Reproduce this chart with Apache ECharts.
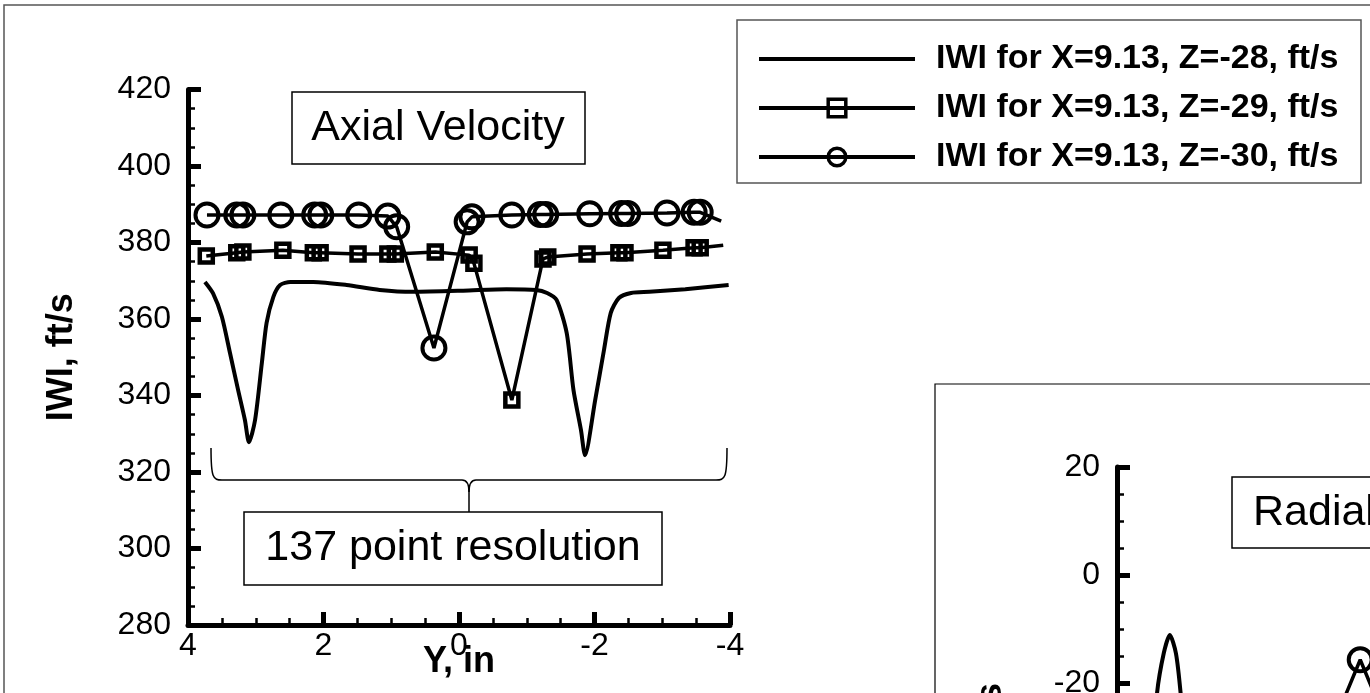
<!DOCTYPE html>
<html>
<head>
<meta charset="utf-8">
<script src="https://cdn.jsdelivr.net/npm/echarts/dist/echarts.min.js"></script>
<style>
  html, body { margin: 0; padding: 0; background: #fff; }
  #chart { width: 1370px; height: 693px; }
</style>
</head>
<body>
<div id="chart"></div>
<script>
// series names (legend)
var names = ['IWI for X=9.13, Z=-28, ft/s', 'IWI for X=9.13, Z=-29, ft/s', 'IWI for X=9.13, Z=-30, ft/s'];

// axial velocity, Y position (in) and |W| (ft/s)
var axialPos28 = [3.75, 3.63, 3.50, 3.38, 3.26, 3.16, 3.10, 3.01, 2.91, 2.84, 2.74, 2.64, 2.49, 2.15, 1.66, 1.17, 0.68, -0.06, -0.70, -1.14, -1.30, -1.44, -1.59, -1.69, -1.80, -1.86, -2.01, -2.14, -2.24, -2.36, -2.54, -2.81, -3.34, -3.98];
var axialVel28 = [369.7, 366.7, 360.6, 351.1, 341.4, 333.6, 327.8, 333.6, 348.5, 359.0, 365.8, 368.9, 369.7, 369.7, 368.9, 367.6, 367.1, 367.4, 367.8, 367.6, 366.8, 365.0, 356.3, 341.4, 331.0, 324.4, 338.8, 351.9, 361.6, 365.5, 366.8, 367.1, 367.8, 368.9];

var axialPos29 = [3.73, 3.28, 3.19, 2.60, 2.15, 2.05, 1.49, 1.05, 0.94, 0.35, -0.15, -0.22, -0.78, -1.24, -1.31, -1.89, -2.36, -2.45, -3.01, -3.47, -3.56, -3.90];
var axialVel29 = [376.5, 377.3, 377.5, 378.0, 377.3, 377.3, 377.0, 377.0, 377.0, 377.5, 376.7, 374.6, 338.8, 375.7, 376.2, 377.0, 377.3, 377.3, 378.0, 378.6, 378.6, 379.3];

var axialPos30 = [3.72, 3.28, 3.19, 2.63, 2.13, 2.04, 1.48, 1.05, 0.92, 0.37, -0.12, -0.19, -0.78, -1.20, -1.28, -1.93, -2.40, -2.49, -3.07, -3.47, -3.56, -3.87];
var axialVel30 = [387.2, 387.2, 387.2, 387.2, 387.2, 387.2, 387.2, 386.9, 384.1, 352.4, 385.4, 386.7, 387.2, 387.3, 387.3, 387.5, 387.6, 387.6, 387.7, 387.9, 387.9, 385.6];

// radial velocity (only the top of this panel is in view)
var radialPos28 = [3.52, 3.41, 3.31, 3.22, 3.13, 3.06, 2.94];
var radialVel28 = [-40, -22, -14.5, -11.1, -14.5, -22, -40];
var radialPos30 = [0.80, 0.41, 0.02];
var radialVel30 = [-27.5, -15.7, -27.5];

var axialRange = [280, 420];
var radialRange = [-80, 20];

var font = "'Liberation Sans', Arial, Helvetica, sans-serif";

// pairs [pos, vel]; the last point of a marked series carries no symbol
function pairs(pos, vel, bareLast) {
  return pos.map(function (p, i) {
    if (bareLast && i === pos.length - 1) return { value: [p, vel[i]], symbol: 'none' };
    return [p, vel[i]];
  });
}

function xAx(grid, name) {
  return {
    gridIndex: grid, type: 'value', min: -4, max: 4, interval: 2, inverse: true,
    axisLine: { show: true, onZero: false, lineStyle: { color: '#000', width: 5 } },
    axisTick: { show: true, inside: true, length: 13, lineStyle: { color: '#000', width: 5 } },
    minorTick: { show: true, splitNumber: 4, length: 7, lineStyle: { color: '#000', width: 2.5 } },
    splitLine: { show: false },
    axisLabel: { fontSize: 32, color: '#000', margin: 5, fontFamily: font },
    name: name, nameLocation: 'middle', nameGap: 19, nameMoveOverlap: false,
    nameTextStyle: { fontSize: 36, fontWeight: 'bold', color: '#000', fontFamily: font }
  };
}

function yAx(grid, range, name) {
  return {
    gridIndex: grid, type: 'value', min: range[0], max: range[1], interval: 20,
    axisLine: { show: true, onZero: false, lineStyle: { color: '#000', width: 5 } },
    axisTick: { show: true, inside: true, length: 13, lineStyle: { color: '#000', width: 5 } },
    minorTick: { show: true, splitNumber: 4, length: 7, lineStyle: { color: '#000', width: 2.5 } },
    splitLine: { show: false },
    axisLabel: { fontSize: 32, color: '#000', margin: 17, fontFamily: font },
    name: name, nameLocation: 'middle', nameRotate: 90, nameGap: 108, nameMoveOverlap: false,
    nameTextStyle: { fontSize: 36, fontWeight: 'bold', color: '#000', fontFamily: font }
  };
}

function plain(name, x, y, data) {
  return {
    name: name, type: 'line', xAxisIndex: x, yAxisIndex: y, data: data,
    symbol: 'none', smooth: 0.25,
    lineStyle: { color: '#000', width: 4 }, itemStyle: { color: '#000' }
  };
}

function marked(name, x, y, data, sym, size, bw) {
  return {
    name: name, type: 'line', xAxisIndex: x, yAxisIndex: y, data: data,
    symbol: sym, symbolSize: size, showAllSymbol: true,
    lineStyle: { color: '#000', width: 3.5 },
    itemStyle: { color: 'rgba(0,0,0,0)', borderColor: '#000', borderWidth: bw }
  };
}

var thin = { fill: 'none', stroke: '#000', lineWidth: 1.5 };
var boxText = { fontSize: 43, fontFamily: font, fill: '#000', textVerticalAlign: 'middle' };

var myChart = echarts.init(document.getElementById('chart'));
myChart.setOption({
  animation: false,
  backgroundColor: '#fff',
  grid: [
    { left: 188, top: 89.5, width: 542, height: 535.5, outerBoundsMode: 'none' },
    { left: 1117, top: 467, width: 542, height: 540, outerBoundsMode: 'none' }
  ],
  xAxis: [xAx(0, 'Y, in'), xAx(1, 'Y, in')],
  yAxis: [yAx(0, axialRange, 'IWI, ft/s'), yAx(1, radialRange, 'Vr, ft/s')],
  legend: {
    orient: 'vertical', left: 752, top: 37,
    itemWidth: 156, itemHeight: 22, itemGap: 15,
    lineStyle: { color: '#000', width: 4 },
    itemStyle: { borderWidth: 3.5 },
    data: [
      { name: names[0], itemStyle: { color: 'rgba(0,0,0,0)', borderColor: 'rgba(0,0,0,0)' } },
      names[1], names[2]
    ],
    textStyle: { fontSize: 34, fontWeight: 'bold', color: '#000', fontFamily: font, lineHeight: 30, padding: [0, 0, 0, 16] }
  },
  graphic: [
    // outer frame of the figure
    { type: 'rect', shape: { x: 4, y: 5, width: 1400, height: 720 }, style: { fill: 'none', stroke: '#555', lineWidth: 1.5 }, silent: true },
    // legend box
    { type: 'rect', shape: { x: 737, y: 20, width: 624, height: 163 }, style: { fill: 'none', stroke: '#555', lineWidth: 1.5 }, silent: true },
    // panel title
    { type: 'rect', shape: { x: 292, y: 92, width: 293, height: 72 }, style: thin, silent: true },
    { type: 'text', x: 438, y: 128, style: Object.assign({ text: 'Axial Velocity', textAlign: 'center' }, boxText), silent: true },
    // brace + note
    { type: 'bezierCurve', shape: { x1: 211, y1: 448, cpx1: 211, cpy1: 478, cpx2: 213, cpy2: 480, x2: 222, y2: 480 }, style: thin, silent: true },
    { type: 'line', shape: { x1: 222, y1: 480, x2: 462, y2: 480 }, style: thin, silent: true },
    { type: 'bezierCurve', shape: { x1: 462, y1: 480, cpx1: 467, cpy1: 480, cpx2: 469, cpy2: 484, x2: 469, y2: 492 }, style: thin, silent: true },
    { type: 'bezierCurve', shape: { x1: 476, y1: 480, cpx1: 471, cpy1: 480, cpx2: 469, cpy2: 484, x2: 469, y2: 492 }, style: thin, silent: true },
    { type: 'line', shape: { x1: 469, y1: 492, x2: 469, y2: 512 }, style: thin, silent: true },
    { type: 'line', shape: { x1: 476, y1: 480, x2: 716, y2: 480 }, style: thin, silent: true },
    { type: 'bezierCurve', shape: { x1: 716, y1: 480, cpx1: 725, cpy1: 480, cpx2: 727, cpy2: 478, x2: 727, y2: 448 }, style: thin, silent: true },
    { type: 'rect', shape: { x: 244, y: 512, width: 418, height: 73 }, style: thin, silent: true },
    { type: 'text', x: 453, y: 548, style: Object.assign({ text: '137 point resolution', textAlign: 'center' }, boxText), silent: true },
    // radial panel frame and title
    { type: 'rect', shape: { x: 935, y: 384, width: 600, height: 400 }, style: { fill: 'none', stroke: '#000', lineWidth: 1.2 }, silent: true },
    { type: 'rect', shape: { x: 1232, y: 477, width: 300, height: 71 }, style: thin, silent: true },
    { type: 'text', x: 1253, y: 513, style: Object.assign({ text: 'Radial Velocity', textAlign: 'left' }, boxText), silent: true }
  ],
  series: [
    plain(names[0], 0, 0, pairs(axialPos28, axialVel28, false)),
    marked(names[1], 0, 0, pairs(axialPos29, axialVel29, true), 'rect', 13, 4.5),
    marked(names[2], 0, 0, pairs(axialPos30, axialVel30, true), 'circle', 23, 4),
    plain(names[0], 1, 1, pairs(radialPos28, radialVel28, false)),
    marked(names[2], 1, 1, pairs(radialPos30, radialVel30, false), 'circle', 23, 4)
  ]
});
</script>
</body>
</html>
